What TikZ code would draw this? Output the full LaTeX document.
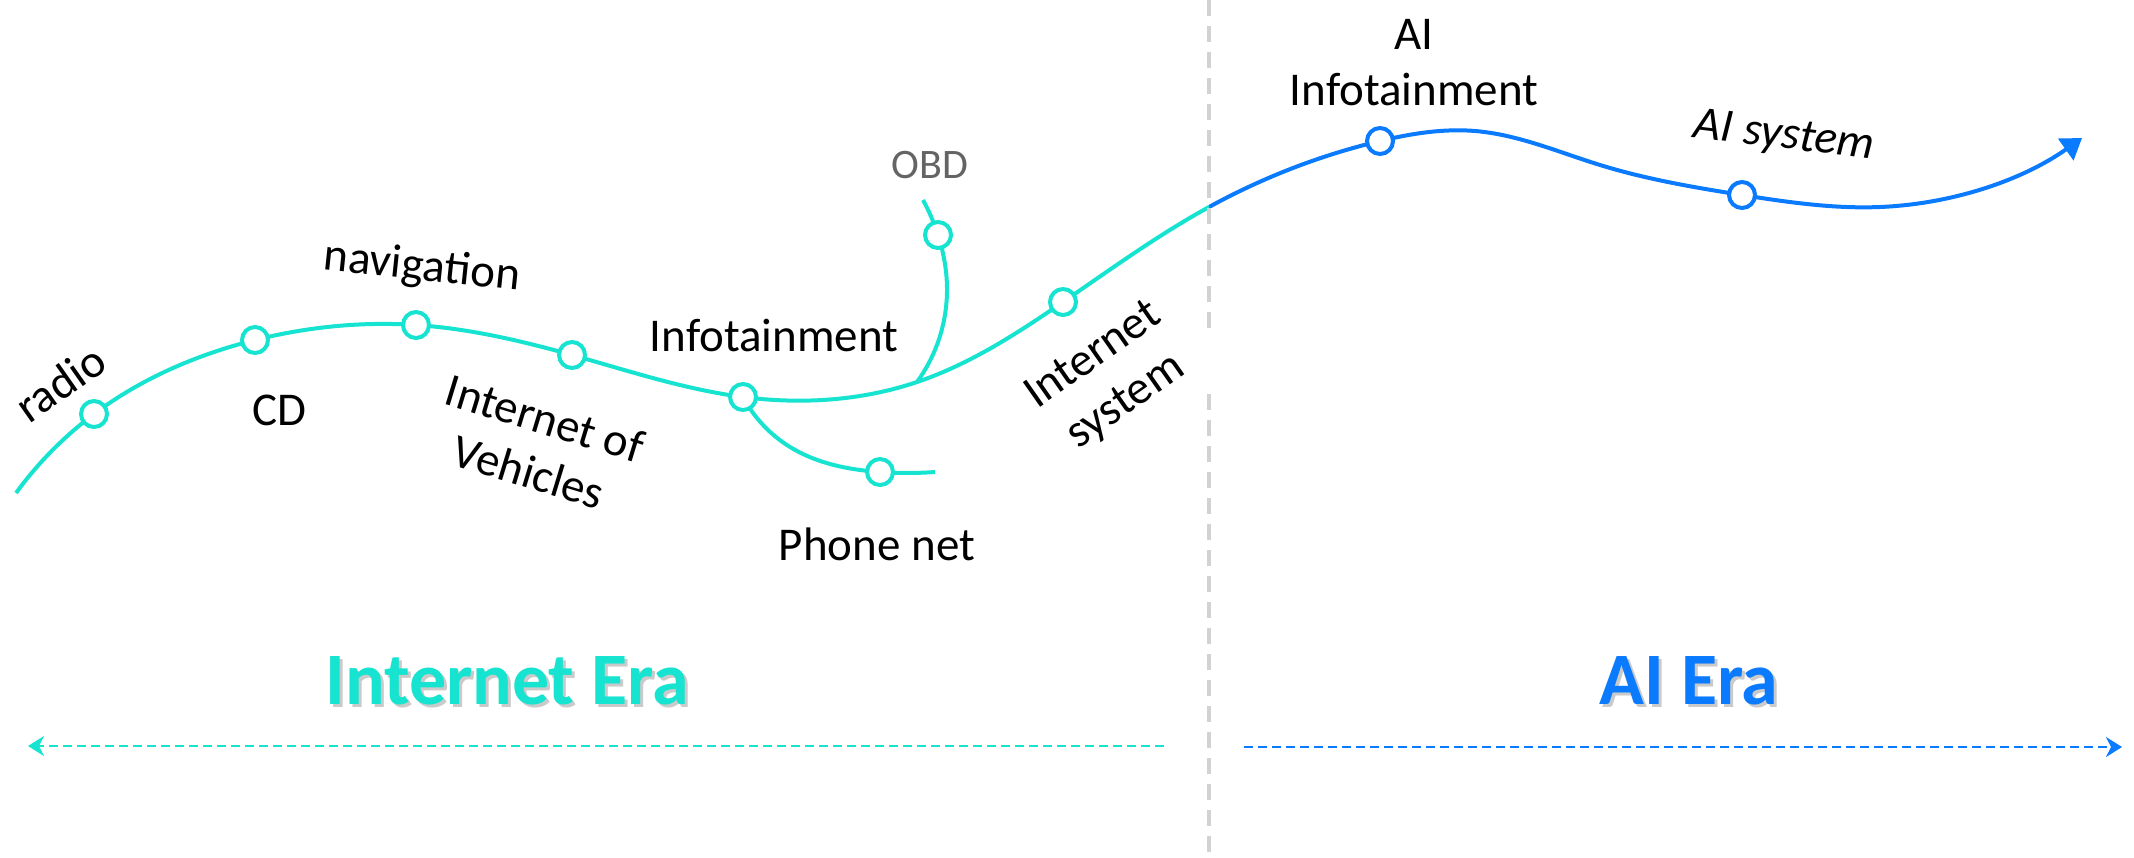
\documentclass[tikz,border=0pt]{standalone}
\usepackage{fontspec}
\setmainfont{Carlito}
\usetikzlibrary{arrows.meta,backgrounds,hobby}
\definecolor{teal1}{RGB}{22,228,208}
\definecolor{blue1}{RGB}{10,122,255}
\definecolor{dgray}{RGB}{210,210,210}
\definecolor{obdgray}{RGB}{100,100,100}
\begin{document}
\begin{tikzpicture}[x=0.5pt,y=0.5pt,
  pt/.style={circle, draw, line width=2pt, fill=white, minimum size=13pt, inner sep=0pt},
  tealpt/.style={pt, draw=teal1},
  bluept/.style={pt, draw=blue1},
  curve/.style={line width=2pt, use Hobby shortcut},
  lbl/.style={font=\fontsize{23.5}{28}\selectfont, text=black, inner sep=0pt, align=center},
  era/.style={font=\fontsize{37}{44}\selectfont\bfseries, inner sep=0pt},
  shadowtxt/.style={era, text=black!35, opacity=0.6},
  eraarrow/.style={line width=1pt, dash pattern=on 4.5pt off 2.5pt, -{Stealth[length=8pt,width=10pt,inset=2.5pt]}},
  divider/.style={dgray, line width=1.6pt, dash pattern=on 8pt off 5pt}
]
\useasboundingbox (0,0) rectangle (2134,-857);

% points on curves
\node[tealpt] (radio) at (94,-414) {};
\node[tealpt] (cd) at (255,-340) {};
\node[tealpt] (nav) at (416,-325) {};
\node[tealpt] (iov) at (572,-355) {};
\node[tealpt] (info) at (743,-397) {};
\node[tealpt] (phone) at (880,-472) {};
\node[tealpt] (obd) at (938,-235) {};
\node[tealpt] (isys) at (1063,-302) {};
\node[bluept] (aiinfo) at (1380,-141) {};
\node[bluept] (aisys) at (1742,-195) {};

\coordinate (s0) at (16,-493);
\coordinate (obdj) at (917,-382);
\coordinate (dj) at (1209,-207);
\coordinate (b1) at (1475,-131);
\coordinate (b2) at (1600,-165);
\coordinate (b3) at (1880,-207);
\coordinate (tip) at (2082,-138);
\coordinate (p1) at (790,-447);
\coordinate (pend) at (935,-472);
\coordinate (o2) at (947,-290);
\coordinate (oend) at (923,-200);

\begin{scope}[on background layer]
  \begin{scope}
    \clip (0,10) rectangle (1209,-857);
    \draw[curve, teal1] (s0) .. (radio.center) .. (cd.center) .. (nav.center) .. (iov.center) .. (info.center) .. (obdj) .. (isys.center) .. (dj) .. (aiinfo.center) .. (b1) .. (b2) .. (aisys.center) .. (b3) .. (tip);
  \end{scope}
  \begin{scope}
    \clip (1209,10) rectangle (2134,-857);
    \draw[curve, blue1, -{Triangle[length=10pt,width=13pt]}] (s0) .. (radio.center) .. (cd.center) .. (nav.center) .. (iov.center) .. (info.center) .. (obdj) .. (isys.center) .. (dj) .. (aiinfo.center) .. (b1) .. (b2) .. (aisys.center) .. (b3) .. (tip);
  \end{scope}
  \draw[curve, teal1] (info.center) .. (p1) .. (phone.center) .. (pend);
  \draw[curve, teal1] (obdj) .. (o2) .. (obd.center) .. (oend);
\end{scope}

% divider
\coordinate (v1) at (1209,0);
\coordinate (v2) at (1209,-334);
\coordinate (v3) at (1209,-394);
\coordinate (v4) at (1209,-857);
\draw[divider] (v1) -- (v2);
\draw[divider] (v3) -- (v4);

% labels
\node[lbl, rotate=35] (lradio) at (60,-383) {radio};
\node[lbl] (lcd) at (279,-410) {CD};
\node[lbl, rotate=-6] (lnav) at (422,-268) {navigation};
\node[lbl, rotate=-17] (liov) at (537,-445) {Internet of\\Vehicles};
\node[lbl] (linfo) at (774,-335) {Infotainment};
\node[lbl] (lphone) at (877,-544) {Phone net};
\node[lbl, font=\fontsize{21}{25}\selectfont, text=obdgray] (lobd) at (930,-165) {OBD};
\node[lbl, rotate=35] (lisys) at (1110,-379) {Internet\\system};
\node[lbl] (laiinfo) at (1414,-63) {AI\\Infotainment};
\node[lbl, rotate=-7, font=\fontsize{23.5}{28}\selectfont\itshape] (laisys) at (1784,-137) {AI system};

% eras
\node[shadowtxt] (ieshadow) at (510,-684) {Internet Era};
\node[era, text=teal1] (ie) at (507,-681) {Internet Era};
\node[shadowtxt] (aeshadow) at (1692,-684) {AI Era};
\node[era, text=blue1] (ae) at (1689,-681) {AI Era};

\coordinate (la1) at (1164,-746);
\coordinate (la2) at (28,-746);
\coordinate (ra1) at (1244,-747);
\coordinate (ra2) at (2122,-747);
\draw[eraarrow, teal1] (la1) -- (la2);
\draw[eraarrow, blue1] (ra1) -- (ra2);
\end{tikzpicture}
\end{document}
